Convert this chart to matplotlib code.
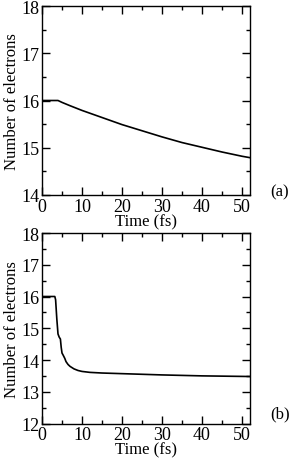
import matplotlib
matplotlib.use("Agg")
import matplotlib.pyplot as plt
from matplotlib.ticker import MultipleLocator

plt.rcParams['font.family'] = ['Liberation Serif', 'DejaVu Serif']

# Panel (a)
time_a = [0, 2, 4, 5, 7, 10, 15, 20, 25, 30, 35, 40, 45, 50, 52]
elec_a = [16.0, 16.0, 16.0, 15.96, 15.89, 15.79, 15.64, 15.49, 15.36, 15.23, 15.11, 15.01, 14.91, 14.82, 14.79]

# Panel (b)
time_b = [0, 2, 3.2, 3.4, 3.7, 4.0, 4.3, 4.6, 4.8, 5.0, 5.3, 5.7, 6.0, 6.5, 7.0, 8.0, 9.0, 10.0, 12.0, 15.0, 20.0, 30.0, 40.0, 52.0]
elec_b = [16.0, 16.0, 16.0, 15.9, 15.3, 14.82, 14.72, 14.66, 14.4, 14.22, 14.15, 14.05, 13.95, 13.86, 13.8, 13.72, 13.67, 13.64, 13.61, 13.59, 13.57, 13.53, 13.50, 13.48]

xticks = [0, 10, 20, 30, 40, 50]
panel_labels = ['(a)', '(b)']

fig = plt.figure(figsize=(2.95, 4.64), dpi=100)
W, H = 295, 464
ax_a = fig.add_axes([42 / W, 1 - 196 / H, 208 / W, 189 / H])
ax_b = fig.add_axes([42 / W, 1 - 424.5 / H, 208 / W, 190.5 / H])

for ax, t, n, ylim in [(ax_a, time_a, elec_a, (14, 18)),
                       (ax_b, time_b, elec_b, (12, 18))]:
    ax.plot(t, n, color='black', lw=1.2)
    ax.set_xlim(0, 52)
    ax.set_ylim(*ylim)
    ax.set_xticks(xticks)
    ax.xaxis.set_minor_locator(MultipleLocator(5))
    ax.yaxis.set_major_locator(MultipleLocator(1))
    ax.yaxis.set_minor_locator(MultipleLocator(0.5))
    ax.tick_params(which='both', direction='in', top=True, right=True, labelsize=13, pad=2)
    ax.tick_params(which='major', length=6, width=1)
    ax.tick_params(which='minor', length=3, width=1)
    for s in ax.spines.values():
        s.set_linewidth(1.0)
    ax.set_xlabel('Time (fs)', fontsize=12, labelpad=-1)
    ax.set_ylabel('Number of electrons', fontsize=12, labelpad=1)

fig.text(280 / W, 1 - 192 / H, panel_labels[0], fontsize=12, ha='center', va='center')
fig.text(280 / W, 1 - 414 / H, panel_labels[1], fontsize=12, ha='center', va='center')

fig.savefig('out.png', dpi=100)
